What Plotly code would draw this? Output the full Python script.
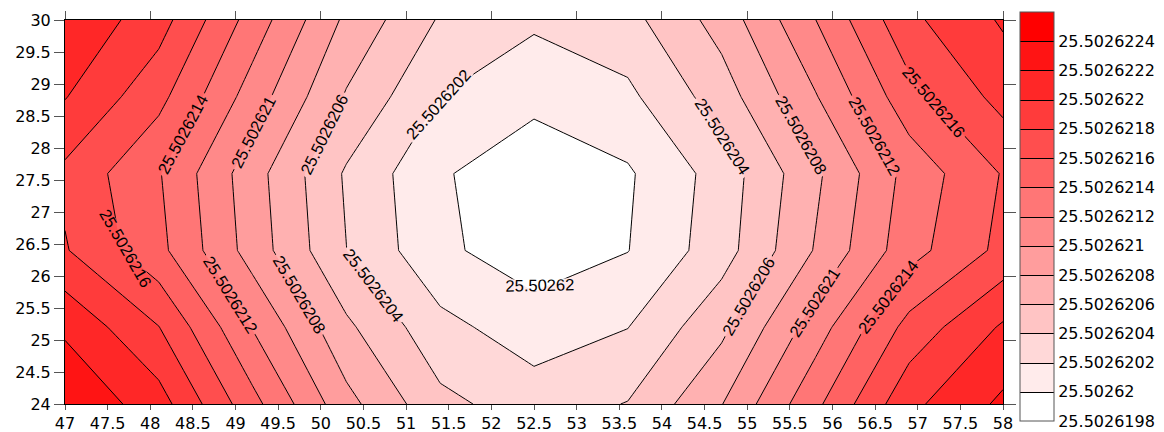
import plotly.graph_objects as go

# ---- data ----
x_vals = [47.0, 48.1, 49.2, 50.3, 51.4, 52.5, 53.6, 54.7, 55.8, 56.9, 58.0]
y_vals = [24.0, 25.2, 26.4, 27.6, 28.8, 30.0]

z_y24_0 = [25.50262238, 25.502622088, 25.502621465, 25.502620865, 25.502620452, 25.502620303,
           25.502620408, 25.502620793, 25.502621353, 25.502621949, 25.50262224]
z_y25_2 = [25.502622163, 25.502621805, 25.50262119, 25.50262064, 25.50262026, 25.502620093,
           25.502620196, 25.50262055, 25.5026211, 25.50262167, 25.502622027]
z_y26_4 = [25.502621816, 25.502621456, 25.502620912, 25.502620402, 25.502620039, 25.502619892,
           25.502619995, 25.50262031, 25.502620815, 25.502621323, 25.502621655]
z_y27_6 = [25.502621754, 25.502621415, 25.502620883, 25.502620374, 25.502620022, 25.50261987,
           25.502619975, 25.502620285, 25.50262076, 25.50262127, 25.502621614]
z_y28_8 = [25.50262201, 25.50262166, 25.502621105, 25.50262058, 25.502620198, 25.502620053,
           25.502620155, 25.5026205, 25.502620985, 25.50262153, 25.50262187]
z_y30_0 = [25.50262217, 25.502621885, 25.502621315, 25.502620758, 25.502620379, 25.502620234,
           25.502620334, 25.50262068, 25.502621197, 25.502621754, 25.502622024]

level_start = 25.50262
level_end = 25.5026224
level_step = 0.0000002
z_low = 25.5026198
z_high = 25.5026226

cbar_vals = [25.5026198, 25.50262, 25.5026202, 25.5026204, 25.5026206, 25.5026208, 25.502621,
             25.5026212, 25.5026214, 25.5026216, 25.5026218, 25.502622, 25.5026222, 25.5026224]
cbar_text = ["25.5026198", "25.50262", "25.5026202", "25.5026204", "25.5026206", "25.5026208",
             "25.502621", "25.5026212", "25.5026214", "25.5026216", "25.5026218", "25.502622",
             "25.5026222", "25.5026224"]

z_rows = [z_y24_0, z_y25_2, z_y26_4, z_y27_6, z_y28_8, z_y30_0]

TICK_FONT = dict(family="DejaVu Sans", size=16, color="black")
LABEL_FONT = dict(family="Liberation Sans", size=16.5, color="black")

fig = go.Figure()
fig.add_trace(go.Contour(
    x=x_vals, y=y_vals, z=z_rows,
    zmin=z_low, zmax=z_high, autocontour=False,
    contours=dict(start=level_start, end=level_end, size=level_step,
                  coloring="fill", showlabels=True,
                  labelfont=LABEL_FONT,
                  labelformat=".9~g"),
    line=dict(color="black", width=1, smoothing=0),
    colorscale=[[0, "#ffffff"], [1, "#ff0000"]],
    hoverinfo="skip",
    colorbar=dict(
        thickness=34, thicknessmode="pixels",
        len=409, lenmode="pixels",
        x=1.0181, xanchor="left", y=1.0208, yanchor="top",
        xpad=0, ypad=0,
        outlinewidth=1, outlinecolor="#555555",
        tickvals=cbar_vals, ticktext=cbar_text,
        ticks="", ticklen=0,
        tickfont=TICK_FONT,
    ),
))
fig.add_trace(go.Scatter(x=[], y=[], xaxis="x2", yaxis="y2", showlegend=False, hoverinfo="skip"))

axis_common = dict(showgrid=False, zeroline=False, showline=True, linecolor="black", linewidth=1,
                   ticks="outside", tickwidth=1, tickcolor="#555555", automargin=False)

# the page body adds an 8 px offset, so the figure is 8 px smaller than the window
fig.update_layout(
    width=1156, height=424,
    margin=dict(l=57, r=161, t=12, b=28, autoexpand=False),
    paper_bgcolor="white", plot_bgcolor="white",
    showlegend=False,
    xaxis=dict(range=[47, 58], tick0=47, dtick=0.5, ticklen=5, tickfont=TICK_FONT, **axis_common),
    yaxis=dict(range=[24, 30], tick0=24, dtick=0.5, ticklen=10, tickfont=TICK_FONT, **axis_common),
    xaxis2=dict(range=[47, 58], tick0=47, dtick=1, ticklen=8, overlaying="x", side="top",
                anchor="y", showticklabels=False, **axis_common),
    yaxis2=dict(range=[24, 30], tick0=24, dtick=1, ticklen=12, overlaying="y", side="right",
                anchor="x", showticklabels=False, **axis_common),
)

fig.write_html("out.html")
